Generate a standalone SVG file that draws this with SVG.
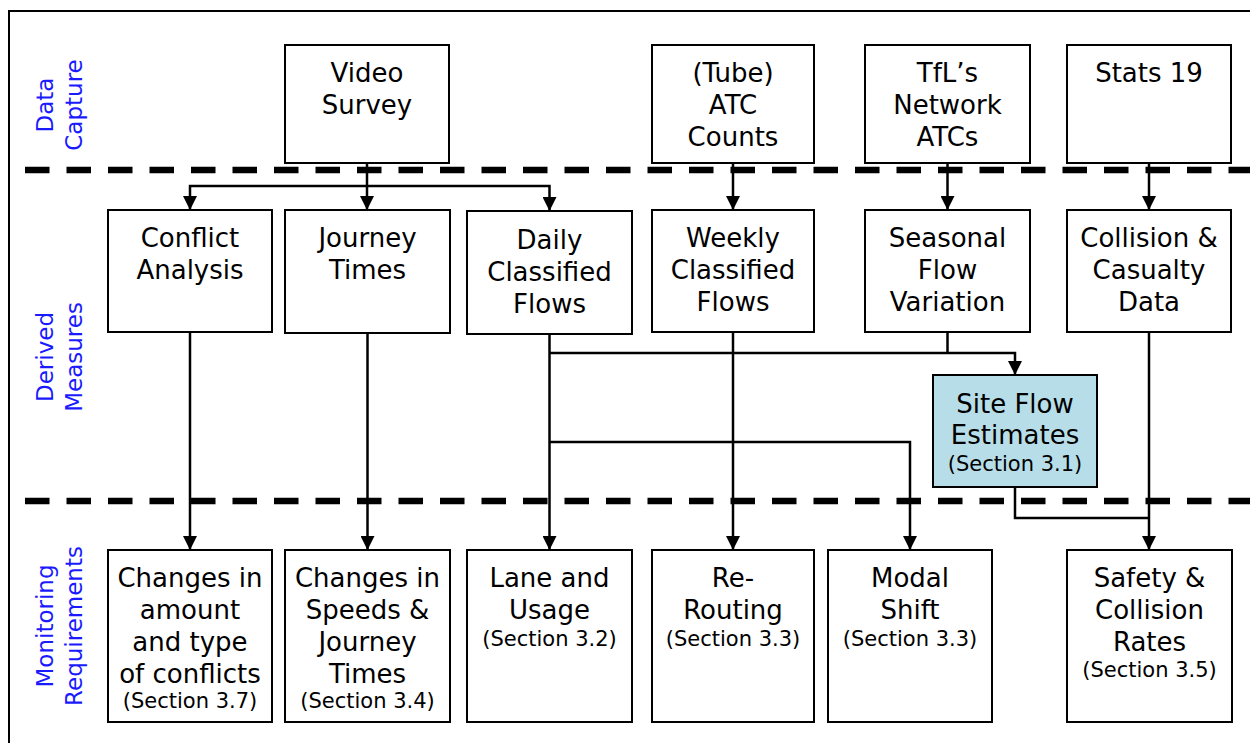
<svg xmlns="http://www.w3.org/2000/svg" width="1250" height="743" viewBox="0 0 1250 743">
<style>
.bx{fill:#fff;stroke:#000;stroke-width:2}
.hl{fill:#b7dee8}
.t{font-family:"DejaVu Sans",Verdana,sans-serif;font-size:26px;fill:#000;text-anchor:middle}
.s{font-size:21px}
.lab{font-family:"DejaVu Sans",Verdana,sans-serif;font-size:23px;fill:#1a1aff;text-anchor:middle}
.c{fill:none;stroke:#000;stroke-width:2.5}
.dash{fill:none;stroke:#000;stroke-width:6.5;stroke-dasharray:24.5 17}
</style>
<defs>
<marker id="ah" viewBox="0 0 14 14" refX="14" refY="7" markerWidth="14" markerHeight="14" markerUnits="userSpaceOnUse" orient="auto">
<path d="M0,0 L14,7 L0,14 z" fill="#000"/>
</marker>
</defs>
<rect x="0" y="0" width="1250" height="743" fill="#fff"/>
<rect x="9" y="11" width="1260" height="760" fill="none" stroke="#000" stroke-width="2"/>
<g id="separators">
<line class="dash" x1="25" y1="170" x2="1250" y2="170"/>
<line class="dash" x1="25" y1="501" x2="1250" y2="501"/>
</g>
<g id="row-labels">
<text class="lab" transform="translate(53,105) rotate(-90)">Data</text>
<text class="lab" transform="translate(82,105) rotate(-90)">Capture</text>
<text class="lab" transform="translate(53,357) rotate(-90)">Derived</text>
<text class="lab" transform="translate(82,357) rotate(-90)">Measures</text>
<text class="lab" transform="translate(53,626) rotate(-90)">Monitoring</text>
<text class="lab" transform="translate(82,626) rotate(-90)">Requirements</text>
</g>
<g id="connectors">
<path class="c" d="M367,163 V210" marker-end="url(#ah)"/>
<path class="c" d="M367,186 H190 V210" marker-end="url(#ah)"/>
<path class="c" d="M367,186 H549.5 V211" marker-end="url(#ah)"/>
<path class="c" d="M733,163 V210" marker-end="url(#ah)"/>
<path class="c" d="M947.5,163 V210" marker-end="url(#ah)"/>
<path class="c" d="M1149,163 V210" marker-end="url(#ah)"/>
<path class="c" d="M190,332 V550" marker-end="url(#ah)"/>
<path class="c" d="M367.5,333 V550" marker-end="url(#ah)"/>
<path class="c" d="M549.5,334 V550" marker-end="url(#ah)"/>
<path class="c" d="M549.5,353 H1015 V375" marker-end="url(#ah)"/>
<path class="c" d="M947.5,332 V353"/>
<path class="c" d="M549.5,442 H910 V550" marker-end="url(#ah)"/>
<path class="c" d="M733,332 V550" marker-end="url(#ah)"/>
<path class="c" d="M1149,332 V550" marker-end="url(#ah)"/>
<path class="c" d="M1015,487 V518 H1149"/>
</g>
<g id="video-survey">
<rect class="bx" x="285" y="45" width="164" height="118"/>
<text class="t" x="367" y="82">Video</text>
<text class="t" x="367" y="114">Survey</text>
</g>
<g id="tube-atc">
<rect class="bx" x="652" y="45" width="162" height="118"/>
<text class="t" x="733" y="82">(Tube)</text>
<text class="t" x="733" y="114">ATC</text>
<text class="t" x="733" y="146">Counts</text>
</g>
<g id="tfl-atcs">
<rect class="bx" x="865" y="45" width="165" height="118"/>
<text class="t" x="947.5" y="82">TfL’s</text>
<text class="t" x="947.5" y="114">Network</text>
<text class="t" x="947.5" y="146">ATCs</text>
</g>
<g id="stats19">
<rect class="bx" x="1067" y="45" width="164" height="118"/>
<text class="t" x="1149" y="82">Stats 19</text>
</g>
<g id="conflict-analysis">
<rect class="bx" x="108" y="210" width="164" height="122"/>
<text class="t" x="190" y="247">Conflict</text>
<text class="t" x="190" y="279">Analysis</text>
</g>
<g id="journey-times">
<rect class="bx" x="285" y="210" width="165" height="123"/>
<text class="t" x="367.5" y="247">Journey</text>
<text class="t" x="367.5" y="279">Times</text>
</g>
<g id="daily-flows">
<rect class="bx" x="467" y="211" width="165" height="123"/>
<text class="t" x="549.5" y="249">Daily</text>
<text class="t" x="549.5" y="281">Classified</text>
<text class="t" x="549.5" y="313">Flows</text>
</g>
<g id="weekly-flows">
<rect class="bx" x="652" y="210" width="162" height="122"/>
<text class="t" x="733" y="247">Weekly</text>
<text class="t" x="733" y="279">Classified</text>
<text class="t" x="733" y="311">Flows</text>
</g>
<g id="seasonal-variation">
<rect class="bx" x="865" y="210" width="165" height="122"/>
<text class="t" x="947.5" y="247">Seasonal</text>
<text class="t" x="947.5" y="279">Flow</text>
<text class="t" x="947.5" y="311">Variation</text>
</g>
<g id="collision-data">
<rect class="bx" x="1067" y="210" width="164" height="122"/>
<text class="t" x="1149" y="247">Collision &amp;</text>
<text class="t" x="1149" y="279">Casualty</text>
<text class="t" x="1149" y="311">Data</text>
</g>
<g id="site-flow-estimates">
<rect class="bx hl" x="933" y="375" width="164" height="112"/>
<text class="t" x="1015" y="413">Site Flow</text>
<text class="t" x="1015" y="444">Estimates</text>
<text class="t s" x="1015" y="471">(Section 3.1)</text>
</g>
<g id="conflict-changes">
<rect class="bx" x="108" y="550" width="164" height="172"/>
<text class="t" x="190" y="587">Changes in</text>
<text class="t" x="190" y="619">amount</text>
<text class="t" x="190" y="651">and type</text>
<text class="t" x="190" y="683">of conflicts</text>
<text class="t s" x="190" y="708">(Section 3.7)</text>
</g>
<g id="speed-changes">
<rect class="bx" x="285" y="550" width="165" height="172"/>
<text class="t" x="367.5" y="587">Changes in</text>
<text class="t" x="367.5" y="619">Speeds &amp;</text>
<text class="t" x="367.5" y="651">Journey</text>
<text class="t" x="367.5" y="683">Times</text>
<text class="t s" x="367.5" y="708">(Section 3.4)</text>
</g>
<g id="lane-usage">
<rect class="bx" x="467" y="550" width="165" height="172"/>
<text class="t" x="549.5" y="587">Lane and</text>
<text class="t" x="549.5" y="619">Usage</text>
<text class="t s" x="549.5" y="646">(Section 3.2)</text>
</g>
<g id="re-routing">
<rect class="bx" x="652" y="550" width="162" height="172"/>
<text class="t" x="733" y="587">Re-</text>
<text class="t" x="733" y="619">Routing</text>
<text class="t s" x="733" y="646">(Section 3.3)</text>
</g>
<g id="modal-shift">
<rect class="bx" x="828" y="550" width="164" height="172"/>
<text class="t" x="910" y="587">Modal</text>
<text class="t" x="910" y="619">Shift</text>
<text class="t s" x="910" y="646">(Section 3.3)</text>
</g>
<g id="safety-rates">
<rect class="bx" x="1067" y="550" width="165" height="172"/>
<text class="t" x="1149.5" y="587">Safety &amp;</text>
<text class="t" x="1149.5" y="619">Collision</text>
<text class="t" x="1149.5" y="651">Rates</text>
<text class="t s" x="1149.5" y="677">(Section 3.5)</text>
</g>
</svg>
